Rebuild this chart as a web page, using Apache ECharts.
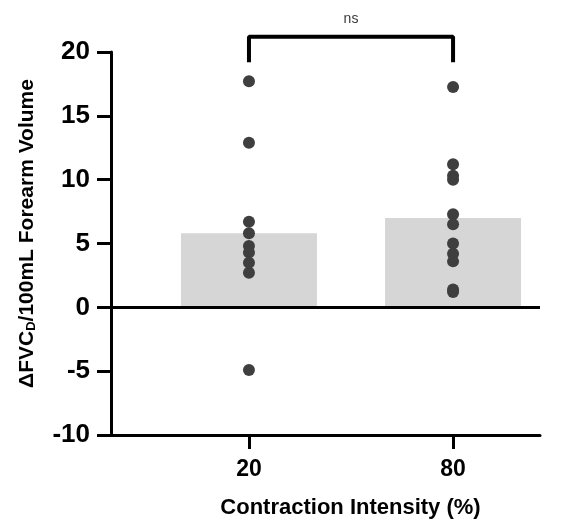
<!DOCTYPE html>
<html>
<head>
<meta charset="utf-8">
<script src="https://cdn.jsdelivr.net/npm/echarts@6/dist/echarts.min.js"></script>
<style>
  html, body { margin: 0; padding: 0; background: #fff; }
  #chart { width: 582px; height: 527px; }
</style>
</head>
<body>
<div id="chart"></div>
<script>
// categories and values
var categories = ['20', '80'];
var barMeans = [5.8, 7.0];
var points20 = [17.7, 12.9, 6.7, 5.8, 4.8, 4.3, 3.5, 2.7, -4.9];
var points80 = [17.25, 11.2, 10.3, 10.0, 7.3, 6.5, 5.0, 4.2, 3.6, 1.4, 1.2];
var bracketLow = 19.2;
var bracketHigh = 21.2;
var sigLabel = 'ns';

var font = 'Liberation Sans, Arial, sans-serif';

function toPairs(idx, list) {
	return list.map(function (v) { return [idx, v]; });
}

var chart = echarts.init(document.getElementById('chart'), null, { renderer: 'canvas' });

var option = {
	backgroundColor: '#fff',
	animation: false,
	grid: { left: 111, right: 42, top: 52, bottom: 92, containLabel: false },
	xAxis: {
		type: 'value',
		min: -0.676,
		max: 1.426,
		splitLine: { show: false },
		axisLine: { show: true, onZero: false, lineStyle: { color: '#000', width: 3 } },
		axisTick: { show: true, customValues: [0, 1], length: 14, lineStyle: { color: '#000', width: 3 } },
		axisLabel: {
			customValues: [0, 1],
			formatter: function (v) { return categories[Math.round(v)]; },
			color: '#000', fontFamily: font, fontWeight: 'bold', fontSize: 23, margin: 23
		},
		name: 'Contraction Intensity (%)',
		nameLocation: 'middle',
		nameGap: 62,
		nameTextStyle: { color: '#000', fontFamily: font, fontWeight: 'bold', fontSize: 22, padding: [0, 0, 0, 50] }
	},
	yAxis: {
		type: 'value',
		min: -10,
		max: 20,
		interval: 5,
		splitLine: { show: false },
		axisLine: { show: true, onZero: false, lineStyle: { color: '#000', width: 3 } },
		axisTick: { show: true, length: 14, lineStyle: { color: '#000', width: 3 } },
		axisLabel: { color: '#000', fontFamily: font, fontWeight: 'bold', fontSize: 26, margin: 21 },
		name: '{n|\u0394FVC}{s|D}{n|/100mL Forearm Volume}',
		nameLocation: 'middle',
		nameGap: 73,
		nameTextStyle: {
			color: '#000', fontFamily: font, fontWeight: 'bold', fontSize: 21,
			padding: [0, 0, 0, 20],
			rich: {
				n: { color: '#000', fontFamily: font, fontWeight: 'bold', fontSize: 21 },
				s: { color: '#000', fontFamily: font, fontWeight: 'bold', fontSize: 13, padding: [9, 0, 0, 0] }
			}
		}
	},
	series: [
		{
			type: 'bar',
			data: barMeans.map(function (v, i) { return [i, v]; }),
			barWidth: 136,
			itemStyle: { color: '#d6d6d6' },
			silent: true,
			markLine: {
				silent: true,
				symbol: 'none',
				label: { show: false },
				lineStyle: { color: '#000', width: 3, type: 'solid' },
				data: [{ yAxis: 0 }]
			}
		},
		{
			type: 'scatter',
			data: toPairs(0, points20).concat(toPairs(1, points80)),
			symbolSize: 12,
			itemStyle: { color: '#3f3f3f', opacity: 1 },
			z: 5
		},
		{
			type: 'line',
			data: [[0, bracketLow], [0, bracketHigh], [1, bracketHigh], [1, bracketLow]],
			clip: false,
			symbol: 'none',
			lineStyle: { color: '#000', width: 4 },
			silent: true
		},
		{
			type: 'scatter',
			data: [[0.5, 22.6]],
			symbolSize: 0,
			clip: false,
			silent: true,
			label: {
				show: true,
				position: 'inside',
				formatter: sigLabel,
				color: '#000',
				fontFamily: font,
				fontSize: 14
			}
		}
	]
};

chart.setOption(option);
</script>
</body>
</html>
